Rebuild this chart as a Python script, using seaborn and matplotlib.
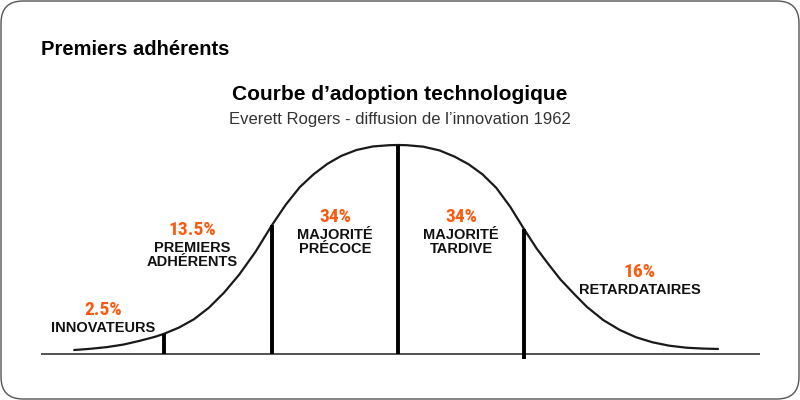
import matplotlib
matplotlib.use("Agg")
import matplotlib.pyplot as plt
from matplotlib import font_manager
from matplotlib.patches import FancyBboxPatch
from matplotlib.transforms import IdentityTransform
import seaborn as sns

# curve: x in standard deviations, y in % of peak height
curve_x = [-2.57, -2.44, -2.31, -2.18, -2.05, -1.93, -1.86, -1.74, -1.62, -1.50,
           -1.38, -1.26, -1.13, -1.00, -0.89, -0.78, -0.67, -0.56, -0.45, -0.33,
           -0.20, -0.07, 0.00, 0.07, 0.20, 0.33, 0.45, 0.56, 0.67, 0.78,
           0.89, 1.00, 1.10, 1.20, 1.29, 1.40, 1.50, 1.63, 1.76, 1.89,
           2.02, 2.15, 2.29, 2.42, 2.54]
curve_y = [1.9, 2.5, 3.3, 4.5, 6.3, 8.2, 9.6, 12.6, 16.6, 22.2,
           29.4, 38.0, 49.0, 61.7, 71.5, 79.8, 86.0, 91.0, 94.8, 97.6,
           99.3, 99.9, 100.0, 99.9, 99.2, 97.4, 94.4, 90.8, 86.0, 79.5,
           70.5, 59.8, 50.5, 42.5, 35.6, 28.6, 22.5, 16.2, 11.5, 8.0,
           5.6, 4.0, 3.0, 2.6, 2.4]

# segment dividers
divider_x = [-1.86, -1.0, 0.0, 1.0]
divider_top = [9.6, 61.7, 100.0, 59.8]
divider_bottom = [0.0, 0.0, 0.0, -2.4]

shares = ["2.5%", "13.5%", "34%", "34%", "16%"]
groups = ["INNOVATEURS", "PREMIERS\nADHÉRENTS", "MAJORITÉ\nPRÉCOCE",
          "MAJORITÉ\nTARDIVE", "RETARDATAIRES"]

header = "Premiers adhérents"
title = "Courbe d’adoption technologique"
subtitle = "Everett Rogers - diffusion de l’innovation 1962"

# label placement in pixels (centre x, baseline y of the percentage)
label_px = [103, 192, 335, 461, 640]
label_py = [315, 235, 222, 222, 277]

ORANGE = "#FA5A0F"
W, H = 800, 400

sns.set_theme(style="white")
plt.rcParams['font.family'] = ['Liberation Sans', 'DejaVu Sans']

# narrow bold face for the percentages, whatever is installed
names = {f.name for f in font_manager.fontManager.ttflist}
pct_font = dict(family='DejaVu Sans', fontstretch='condensed', fontweight='bold', fontsize=11)
for fam in ['Roboto Condensed', 'Liberation Sans Narrow', 'Open Sans Condensed']:
    if fam in names:
        pct_font = dict(family=fam, fontweight='heavy', fontsize=14)
        break

fig = plt.figure(figsize=(8, 4), dpi=100)
fig.patch.set_facecolor('white')
ax = fig.add_axes([0, 0, 1, 1])
ax.set_xlim(-398 / 126, 402 / 126)
ax.set_ylim(-46 / 2.09, 354 / 2.09)
ax.axis('off')

# base line, curve and dividers
ax.hlines(0, -2.83, 2.87, color='#333333', lw=1.2)
sns.lineplot(x=curve_x, y=curve_y, ax=ax, color='#1a1a1a', linewidth=1.6,
             solid_joinstyle='round', solid_capstyle='round')
ax.vlines(divider_x, divider_bottom, divider_top, color='black', lw=2.8)


def px(x, y):
    return x / W, 1 - y / H


fig.text(*px(41, 55), header, fontsize=14.5, fontweight='bold', color='black',
         ha='left', va='baseline')
fig.text(*px(400, 100), title, fontsize=15, fontweight='bold', color='black',
         ha='center', va='baseline')
fig.text(*px(400, 124), subtitle, fontsize=12, color='#333333',
         ha='center', va='baseline')

for share, group, x, y in zip(shares, groups, label_px, label_py):
    fig.text(*px(x, y), share, color=ORANGE, ha='center', va='baseline', **pct_font)
    for i, line in enumerate(group.split("\n")):
        fig.text(*px(x, y + 17 + 14 * i), line, fontsize=10.5, fontweight='bold',
                 color='#111111', ha='center', va='baseline')

# rounded frame
frame = FancyBboxPatch((1, 1), W - 2, H - 2, boxstyle='round,pad=0,rounding_size=22',
                       transform=IdentityTransform(), ec='#555555', fc='none', lw=1)
fig.patches.append(frame)

fig.savefig('out.png', dpi=100)
